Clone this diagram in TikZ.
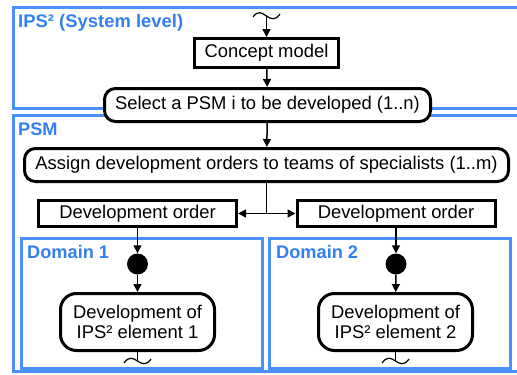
\documentclass[tikz,border=0pt]{standalone}
\usepackage{fontspec}
\usepackage{graphicx}
\setmainfont{Liberation Sans}
\usetikzlibrary{arrows.meta}
\definecolor{laneblue}{RGB}{74,144,255}
\definecolor{labelblue}{RGB}{52,128,240}
\begin{document}
\begin{tikzpicture}[x=1pt,y=-1pt,
  lane/.style={draw=laneblue,line width=3pt},
  lanelabel/.style={anchor=base west,inner sep=0pt,text=labelblue,font=\fontsize{18.2}{20}\selectfont\bfseries},
  taskbox/.style={draw,line width=3pt,fill=white,inner sep=0pt,anchor=center,font=\fontsize{18.4}{20}\selectfont},
  roundbox/.style={taskbox,rounded corners=11pt},
  elembox/.style={taskbox,rounded corners=16pt,align=center},
  flow/.style={line width=1.5pt,-{Triangle[length=8pt,width=8pt]}},
  dot/.style={circle,fill=black,minimum size=21pt,inner sep=0pt},
  wave/.style={line width=1.2pt}
]
\useasboundingbox (0,0) rectangle (517,375);

% swimlanes
\draw[lane] (13.5,7.5) rectangle (522,108.5);
\draw[lane] (13.5,115.5) rectangle (522,371.5);
\draw[lane] (21.5,238.5) rectangle (262.5,368.5);
\draw[lane] (269.5,238.5) rectangle (510.5,368.5);
\node[lanelabel] (l0) at (18,27) {\resizebox{165pt}{\height}{IPS² (System level)}};
\node[lanelabel] (l1) at (18,135) {PSM};
\node[lanelabel] (l2) at (27,258) {Domain 1};
\node[lanelabel] (l3) at (276,258) {Domain 2};

% activities
\node[taskbox,minimum width=144pt,minimum height=29pt] (concept) at (266.5,53) {Concept model};
\node[roundbox,minimum width=326pt,minimum height=33pt] (select) at (267.5,105) {Select a PSM i to be developed (1..n)};
\node[roundbox,minimum width=484pt,minimum height=33pt] (assign) at (266.5,165) {Assign development orders to teams of specialists (1..m)};
\node[taskbox,minimum width=198pt,minimum height=26pt] (orderA) at (137.5,213.5) {Development order};
\node[taskbox,minimum width=198pt,minimum height=26pt] (orderB) at (396,213.5) {Development order};
\node[dot] (dotA) at (137.5,264) {};
\node[dot] (dotB) at (396,264) {};
\node[elembox,minimum width=154pt,minimum height=57pt] (elemA) at (137.5,322) {Development of\\IPS² element 1};
\node[elembox,minimum width=154pt,minimum height=57pt] (elemB) at (395.5,322) {Development of\\IPS² element 2};

% flow breaks
\coordinate (top) at (266.5,16);
\coordinate (endA) at (137.5,361);
\coordinate (endB) at (395.5,361);
\draw[wave] (253,17) .. controls (258,10) and (262,13) .. (266.5,16) .. controls (271,19) and (275,21) .. (280,14);
\draw[wave] (124,363) .. controls (129,356) and (133,358) .. (137.5,361) .. controls (142,364) and (146,366) .. (151,359);
\draw[wave] (382,363) .. controls (387,356) and (391,358) .. (395.5,361) .. controls (400,364) and (404,366) .. (409,359);

% connectors
\draw[flow] (top) -- (concept);
\draw[flow] (concept) -- (select);
\draw[flow] (select) -- (assign);
\coordinate (split) at (266.5,213.5);
\draw[line width=1.5pt] (assign) -- (split);
\draw[flow] (split) -- (orderA);
\draw[flow] (split) -- (orderB);
\draw[flow] (orderA) -- (dotA);
\draw[flow] (orderB) -- (dotB);
\draw[flow] (dotA) -- (elemA);
\draw[flow] (dotB) -- (elemB);
\draw[line width=1.5pt] (elemA) -- (endA);
\draw[line width=1.5pt] (elemB) -- (endB);
\end{tikzpicture}
\end{document}
